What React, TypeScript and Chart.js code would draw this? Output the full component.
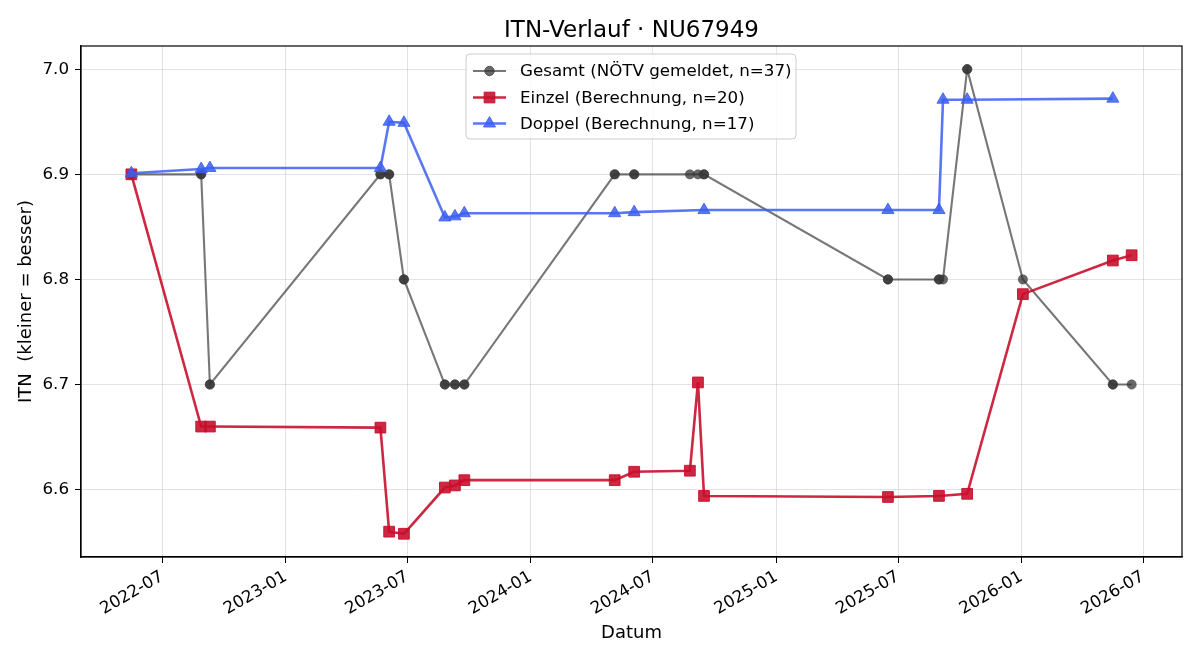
import React, { useEffect, useRef } from "react";
import { Chart, registerables } from "chart.js";

Chart.register(...registerables);

// ---------- data ----------
const gesamtDates = [
  "2022-05-16", "2022-05-16",
  "2022-08-28", "2022-08-28",
  "2022-09-10", "2022-09-10",
  "2023-05-22", "2023-05-22",
  "2023-06-04", "2023-06-04",
  "2023-06-26", "2023-06-26",
  "2023-08-26", "2023-08-26",
  "2023-09-10", "2023-09-10",
  "2023-09-24", "2023-09-24",
  "2024-05-05", "2024-05-05",
  "2024-06-03", "2024-06-03",
  "2024-08-25",
  "2024-09-06",
  "2024-09-15", "2024-09-15",
  "2025-06-16", "2025-06-16",
  "2025-08-31", "2025-08-31",
  "2025-09-06",
  "2025-10-12", "2025-10-12",
  "2026-01-03",
  "2026-05-17", "2026-05-17",
  "2026-06-14",
];
const gesamtValues = [
  6.9, 6.9,
  6.9, 6.9,
  6.7, 6.7,
  6.9, 6.9,
  6.9, 6.9,
  6.8, 6.8,
  6.7, 6.7,
  6.7, 6.7,
  6.7, 6.7,
  6.9, 6.9,
  6.9, 6.9,
  6.9,
  6.9,
  6.9, 6.9,
  6.8, 6.8,
  6.8, 6.8,
  6.8,
  7.0, 7.0,
  6.8,
  6.7, 6.7,
  6.7,
];

const einzelDates = [
  "2022-05-16", "2022-08-28", "2022-09-10", "2023-05-22", "2023-06-04",
  "2023-06-26", "2023-08-26", "2023-09-10", "2023-09-24", "2024-05-05",
  "2024-06-03", "2024-08-25", "2024-09-06", "2024-09-15", "2025-06-16",
  "2025-08-31", "2025-10-12", "2026-01-03", "2026-05-17", "2026-06-14",
];
const einzelValues = [
  6.9, 6.660, 6.660, 6.659, 6.560,
  6.558, 6.602, 6.604, 6.609, 6.609,
  6.617, 6.618, 6.702, 6.594, 6.593,
  6.594, 6.596, 6.786, 6.818, 6.823,
];

const doppelDates = [
  "2022-05-16", "2022-08-28", "2022-09-10", "2023-05-22", "2023-06-04",
  "2023-06-26", "2023-08-26", "2023-09-10", "2023-09-24", "2024-05-05",
  "2024-06-03", "2024-09-15", "2025-06-16", "2025-08-31", "2025-09-06",
  "2025-10-12", "2026-05-17",
];
const doppelValues = [
  6.901, 6.905, 6.906, 6.906, 6.950,
  6.949, 6.859, 6.860, 6.863, 6.863,
  6.864, 6.866, 6.866, 6.866, 6.971,
  6.971, 6.972,
];

const xTickDates = [
  "2022-07-01", "2023-01-01", "2023-07-01", "2024-01-01", "2024-07-01",
  "2025-01-01", "2025-07-01", "2026-01-01", "2026-07-01",
];
const yTickValues = [6.6, 6.7, 6.8, 6.9, 7.0];

const seriesLabels = [
  "Gesamt (NÖTV gemeldet, n=37)",
  "Einzel (Berechnung, n=20)",
  "Doppel (Berechnung, n=17)",
];

const TITLE = "ITN-Verlauf · NU67949";
const X_TITLE = "Datum";
const Y_TITLE = "ITN  (kleiner = besser)";

// ---------- helpers ----------
function ts(d: string): number {
  const [y, m, dd] = d.split("-").map(Number);
  return Date.UTC(y, m - 1, dd);
}
function fmtTick(v: number): string {
  const d = new Date(v);
  const m = d.getUTCMonth() + 1;
  return `${d.getUTCFullYear()}-${m < 10 ? "0" + m : m}`;
}
function pts(dates: string[], vals: number[]) {
  return dates.map((d, i) => ({ x: ts(d), y: vals[i] }));
}

const X_MIN = ts("2022-03-02");
const X_MAX = ts("2026-08-28");
const Y_MIN = 6.5359;
const Y_MAX = 7.0221;

const GRAY = "rgba(55,55,55,0.75)";
const GRAY_LINE = "rgba(55,55,55,0.68)";
const RED = "rgba(200,16,46,0.9)";
const BLUE = "rgba(60,95,240,0.85)";

const FONT = '"DejaVu Sans", "Liberation Sans", sans-serif';

function drawMarker(ctx: CanvasRenderingContext2D, style: string, x: number, y: number, r: number, color: string) {
  ctx.save();
  ctx.fillStyle = color;
  ctx.strokeStyle = color;
  ctx.lineWidth = 1;
  ctx.beginPath();
  if (style === "circle") {
    ctx.arc(x, y, r, 0, Math.PI * 2);
  } else if (style === "rect") {
    const s = Math.SQRT1_2 * r;
    ctx.rect(x - s, y - s, 2 * s, 2 * s);
  } else {
    ctx.moveTo(x, y - r);
    ctx.lineTo(x + r * Math.sin((2 * Math.PI) / 3), y - r * Math.cos((2 * Math.PI) / 3));
    ctx.lineTo(x + r * Math.sin((4 * Math.PI) / 3), y - r * Math.cos((4 * Math.PI) / 3));
    ctx.closePath();
  }
  ctx.fill();
  ctx.stroke();
  ctx.restore();
}

const decorPlugin = {
  id: "decor",
  afterDraw(chart: any) {
    const ctx: CanvasRenderingContext2D = chart.ctx;
    const a = chart.chartArea;
    ctx.save();
    // frame
    ctx.strokeStyle = "#000";
    ctx.lineWidth = 1.2;
    ctx.strokeRect(a.left, a.top, a.right - a.left, a.bottom - a.top);
    // title
    ctx.fillStyle = "#000";
    ctx.font = `23px ${FONT}`;
    ctx.textAlign = "center";
    ctx.textBaseline = "alphabetic";
    ctx.fillText(TITLE, (a.left + a.right) / 2, 36.5);
    // x title
    ctx.font = `18px ${FONT}`;
    ctx.textBaseline = "middle";
    ctx.fillText(X_TITLE, (a.left + a.right) / 2, 633);
    // y title
    ctx.save();
    ctx.translate(26, (a.top + a.bottom) / 2);
    ctx.rotate(-Math.PI / 2);
    ctx.fillText(Y_TITLE, 0, 0);
    ctx.restore();

    // legend
    const bx = 466, by = 54, bw = 330, bh = 85, rr = 4;
    ctx.beginPath();
    ctx.moveTo(bx + rr, by);
    ctx.lineTo(bx + bw - rr, by);
    ctx.quadraticCurveTo(bx + bw, by, bx + bw, by + rr);
    ctx.lineTo(bx + bw, by + bh - rr);
    ctx.quadraticCurveTo(bx + bw, by + bh, bx + bw - rr, by + bh);
    ctx.lineTo(bx + rr, by + bh);
    ctx.quadraticCurveTo(bx, by + bh, bx, by + bh - rr);
    ctx.lineTo(bx, by + rr);
    ctx.quadraticCurveTo(bx, by, bx + rr, by);
    ctx.closePath();
    ctx.fillStyle = "rgba(255,255,255,0.8)";
    ctx.fill();
    ctx.strokeStyle = "#cccccc";
    ctx.lineWidth = 1;
    ctx.stroke();

    const ds = chart.data.datasets;
    const order = [2, 1, 0]; // datasets are stored doppel, einzel, gesamt
    const rows = [71, 97.5, 123.5];
    order.forEach((di, i) => {
      const d = ds[di];
      const y = rows[i];
      ctx.strokeStyle = d.borderColor;
      ctx.lineWidth = d.borderWidth;
      ctx.beginPath();
      ctx.moveTo(473, y);
      ctx.lineTo(506, y);
      ctx.stroke();
      drawMarker(ctx, d.pointStyle, 489.5, y, d.pointRadius, d.pointBackgroundColor);
      ctx.fillStyle = "#000";
      ctx.font = `16.7px ${FONT}`;
      ctx.textAlign = "left";
      ctx.textBaseline = "middle";
      ctx.fillText(seriesLabels[i], 520, y + 1);
    });
    ctx.restore();
  },
};

export default function App() {
  const ref = useRef<HTMLCanvasElement | null>(null);

  useEffect(() => {
    if (!ref.current) return;
    const chart = new Chart(ref.current, {
      type: "line",
      data: {
        datasets: [
          {
            label: seriesLabels[2],
            data: pts(doppelDates, doppelValues),
            borderColor: BLUE,
            backgroundColor: BLUE,
            pointBackgroundColor: BLUE,
            pointBorderColor: BLUE,
            pointStyle: "triangle",
            pointRadius: 7,
            pointBorderWidth: 1,
            borderWidth: 2.6,
            tension: 0,
            order: 1,
          } as any,
          {
            label: seriesLabels[1],
            data: pts(einzelDates, einzelValues),
            borderColor: RED,
            backgroundColor: RED,
            pointBackgroundColor: RED,
            pointBorderColor: RED,
            pointStyle: "rect",
            pointRadius: 7.6,
            pointBorderWidth: 1,
            borderWidth: 2.6,
            tension: 0,
            order: 2,
          } as any,
          {
            label: seriesLabels[0],
            data: pts(gesamtDates, gesamtValues),
            borderColor: GRAY_LINE,
            backgroundColor: GRAY,
            pointBackgroundColor: GRAY,
            pointBorderColor: GRAY,
            pointStyle: "circle",
            pointRadius: 4.7,
            pointBorderWidth: 0.5,
            borderWidth: 2.1,
            tension: 0,
            order: 3,
          } as any,
        ],
      },
      options: {
        responsive: false,
        animation: false,
        events: [],
        layout: { padding: { top: 46, right: 18, left: 0, bottom: 0 } },
        plugins: {
          legend: { display: false },
          tooltip: { enabled: false },
          title: { display: false },
        },
        scales: {
          x: {
            type: "linear",
            min: X_MIN,
            max: X_MAX,
            afterBuildTicks: (s: any) => {
              s.ticks = xTickDates.map((d) => ({ value: ts(d) }));
            },
            afterFit: (s: any) => {
              s.height = 103;
            },
            ticks: {
              autoSkip: false,
              minRotation: 30,
              maxRotation: 30,
              padding: 4,
              color: "#000",
              font: { family: FONT, size: 16.7 },
              callback: (v: any) => fmtTick(Number(v)),
            },
            grid: { color: "rgba(0,0,0,0.11)", tickColor: "#000", tickLength: 6, lineWidth: 1 },
            border: { color: "#000", width: 1.2 },
          },
          y: {
            type: "linear",
            min: Y_MIN,
            max: Y_MAX,
            afterBuildTicks: (s: any) => {
              s.ticks = yTickValues.map((v) => ({ value: v }));
            },
            afterFit: (s: any) => {
              s.width = 81;
            },
            ticks: {
              padding: 6,
              color: "#000",
              font: { family: FONT, size: 16.7 },
              callback: (v: any) => Number(v).toFixed(1),
            },
            grid: { color: "rgba(0,0,0,0.11)", tickColor: "#000", tickLength: 6, lineWidth: 1 },
            border: { color: "#000", width: 1.2 },
          },
        },
      },
      plugins: [decorPlugin],
    });
    return () => chart.destroy();
  }, []);

  return (
    <div style={{ position: "fixed", left: 0, top: 0, width: 1200, height: 660, background: "#fff" }}>
      <canvas ref={ref} width={1200} height={660} style={{ width: 1200, height: 660, display: "block" }} />
    </div>
  );
}
